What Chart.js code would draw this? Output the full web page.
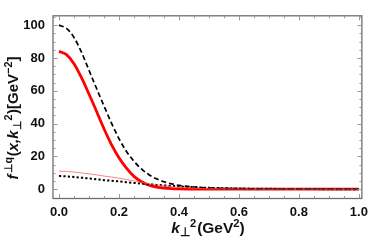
<!DOCTYPE html>
<html>
<head>
<meta charset="utf-8">
<script src="https://cdn.jsdelivr.net/npm/chart.js@4.4.1/dist/chart.umd.min.js"></script>
<style>
html,body{margin:0;padding:0;background:#fff;}
#wrap{width:374px;height:245px;position:relative;}
</style>
</head>
<body>
<div id="wrap"><canvas id="c" width="374" height="245"></canvas></div>
<script>
// ---- data ----
const kPerp2 = [0, 0.025, 0.05, 0.075, 0.1, 0.125, 0.15, 0.175, 0.2, 0.225, 0.25, 0.275, 0.3, 0.325, 0.35, 0.375, 0.4, 0.45, 0.5, 0.6, 0.7, 0.8, 0.9, 1.0];
const redThick  = [84, 82, 76.5, 68, 58, 47.5, 36.8, 27.2, 19.2, 12.8, 7.8, 4.5, 2.4, 1.3, 0.7, 0.35, 0.15, 0.05, 0, 0, 0, 0, 0, 0];
const blackDash = [100, 98, 92.5, 83.5, 72.5, 61.5, 50.8, 40.3, 30.8, 23, 17, 12.3, 8.8, 6.3, 4.5, 3.2, 2.3, 1.3, 0.7, 0.3, 0.1, 0, 0, 0];
const redThin   = [11, 10.8, 10.4, 9.9, 9.3, 8.7, 8, 7.4, 6.7, 5.9, 5, 4.1, 3.3, 2.6, 2, 1.5, 1.1, 0.6, 0.3, 0.1, 0, 0, 0, 0];
const blackDot  = [8, 7.8, 7.4, 7, 6.5, 6, 5.5, 5.1, 4.7, 4.2, 3.8, 3.4, 3, 2.6, 2.3, 2, 1.7, 1.2, 0.8, 0.4, 0.2, 0.1, 0, 0];
const xTicks = [0, 0.2, 0.4, 0.6, 0.8, 1.0];
const yTicks = [0, 20, 40, 60, 80, 100];

function pts(ys){ return kPerp2.map((x,i)=>({x:x, y:ys[i]})); }

// rich text helper: segments [text, fontStyle, scale, dy, extraSpace]
function drawRich(ctx, segs, cx, cy, base){
  const fam = '"Liberation Sans", Arial, sans-serif';
  let w = 0;
  const m = segs.map(s=>{
    ctx.font = (s[1]||'') + ' bold ' + (base*(s[2]||1)).toFixed(1) + 'px ' + fam;
    const ww = ctx.measureText(s[0]).width + (s[4]||0);
    w += ww; return ww;
  });
  let x = cx - w/2;
  ctx.textBaseline = 'middle';
  ctx.textAlign = 'left';
  segs.forEach((s,i)=>{
    ctx.font = (s[1]||'') + ' bold ' + (base*(s[2]||1)).toFixed(1) + 'px ' + fam;
    ctx.fillText(s[0], x, cy + (s[3]||0));
    x += m[i];
  });
}

const framePlugin = {
  id: 'frame',
  afterDraw(chart){
    const ctx = chart.ctx, a = chart.chartArea;
    const xs = chart.scales.x, ys = chart.scales.y;
    ctx.save();
    ctx.strokeStyle = '#6f6f6f';
    ctx.lineWidth = 1.3;
    ctx.strokeRect(a.left, a.top, a.right - a.left, a.bottom - a.top);
    ctx.lineWidth = 1;
    ctx.strokeStyle = '#999';
    for (let v = 0; v <= 1.0001; v += 0.05) {
      const major = Math.abs(v/0.2 - Math.round(v/0.2)) < 1e-6;
      const L = major ? 4.5 : 2.5;
      const px = Math.round(xs.getPixelForValue(v)) + 0.5;
      ctx.beginPath();
      ctx.moveTo(px, a.bottom); ctx.lineTo(px, a.bottom - L);
      ctx.moveTo(px, a.top); ctx.lineTo(px, a.top + L);
      ctx.stroke();
    }
    for (let v = 0; v <= 105; v += 5) {
      const major = v % 20 === 0;
      const L = major ? 4.5 : 2.5;
      const py = Math.round(ys.getPixelForValue(v)) + 0.5;
      ctx.beginPath();
      ctx.moveTo(a.left, py); ctx.lineTo(a.left + L, py);
      ctx.moveTo(a.right, py); ctx.lineTo(a.right - L, py);
      ctx.stroke();
    }
    ctx.fillStyle = '#111';
    drawRich(ctx, [
      ['k','italic',1,0],
      ['\u22A5','',0.75,4],
      ['2','',0.72,-5,1],
      ['(GeV','',1,0],
      ['2','',0.72,-5],
      [')','',1,0]
    ], 208, 229, 15.5);
    ctx.save();
    ctx.translate(14, 118);
    ctx.rotate(-Math.PI/2);
    drawRich(ctx, [
      ['f','italic',1,0,1],
      ['\u22A5q','',0.72,-5,0.5],
      ['(','',1,0],
      ['x,k','italic',1,0],
      ['\u22A5','',0.75,4],
      ['2','',0.72,-5,0.5],
      [')[GeV','',1,0],
      ['\u22122','',0.72,-5],
      [']','',1,0]
    ], 0, 0, 15);
    ctx.restore();
    ctx.restore();
  }
};

new Chart(document.getElementById('c'), {
  type: 'line',
  data: {
    datasets: [
      { data: pts(redThin), borderColor: 'rgba(255,90,90,0.75)', borderWidth: 1, pointRadius: 0, cubicInterpolationMode: 'monotone', fill: false },
      { data: pts(blackDot), borderColor: '#000', borderWidth: 2, borderDash: [2.2, 2.2], pointRadius: 0, cubicInterpolationMode: 'monotone', fill: false },
      { data: pts(blackDash), borderColor: '#000', borderWidth: 1.7, borderDash: [5, 3], pointRadius: 0, cubicInterpolationMode: 'monotone', fill: false },
      { data: pts(redThick), borderColor: '#ff0000', borderWidth: 2.8, pointRadius: 0, cubicInterpolationMode: 'monotone', fill: false }
    ]
  },
  options: {
    responsive: false,
    animation: false,
    events: [],
    layout: { padding: { left: 0, right: 8, top: 4, bottom: 0 } },
    plugins: { legend: { display: false }, tooltip: { enabled: false } },
    scales: {
      x: {
        type: 'linear', min: -0.02, max: 1.01,
        grid: { display: false, drawTicks: false },
        border: { display: false },
        afterBuildTicks: s => { s.ticks = xTicks.map(v => ({ value: v })); },
        afterFit: s => { s.height = 46.5; },
        ticks: {
          padding: 6, color: '#111', maxRotation: 0, autoSkip: false,
          font: { family: '"Liberation Sans", Arial, sans-serif', size: 13, weight: 'bold' },
          callback: v => Number(v).toFixed(1)
        }
      },
      y: {
        type: 'linear', min: -5.7, max: 105.7,
        grid: { display: false, drawTicks: false },
        border: { display: false },
        afterBuildTicks: s => { s.ticks = yTicks.map(v => ({ value: v })); },
        afterFit: s => { s.width = 53; },
        ticks: {
          padding: 8, color: '#111', autoSkip: false,
          font: { family: '"Liberation Sans", Arial, sans-serif', size: 13, weight: 'bold' },
          callback: v => String(v)
        }
      }
    }
  },
  plugins: [framePlugin]
});
</script>
</body>
</html>
